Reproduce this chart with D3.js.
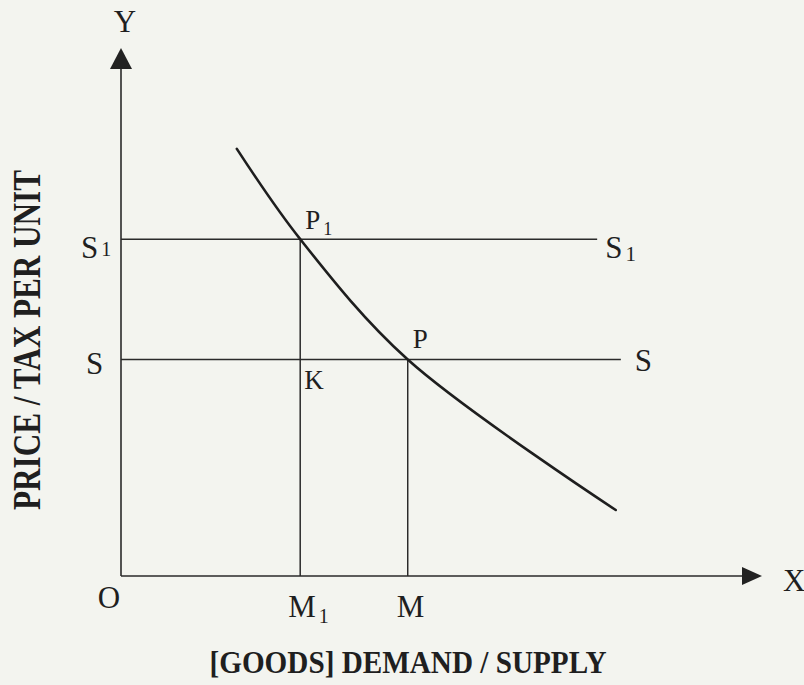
<!DOCTYPE html>
<html>
<head>
<meta charset="utf-8">
<script src="https://cdn.jsdelivr.net/npm/d3@7"></script>
<style>
  html, body { margin: 0; padding: 0; background: #f3f4ef; }
  svg { display: block; }
  text { font-family: "Liberation Serif", "Times New Roman", serif; fill: #1f1f1f; }
</style>
</head>
<body>
<svg id="chart" width="804" height="685"></svg>
<script>
// Demand curve (quantity, price) in axis units 0–100
const demandQty   = [18.1, 28.0, 44.8, 77.3];
const demandPrice = [80.9, 63.8, 41.0, 12.5];

// Supply / tax levels: S1 (with tax) and S (before tax)
const supplyNames  = ["S", "S"];
const supplySubs   = ["1", ""];
const supplyPrices = [63.8, 41.0];
const supplyEnds   = [74.4, 78.1];

// Quantities marked on the X axis
const qtyLabels = ["O", "M", "M"];
const qtySubs   = ["", "1", ""];
const qtyValues = [0, 28.0, 44.8];

const svg = d3.select("#chart");

const x = d3.scaleLinear().domain([0, 100]).range([121, 761]);
const y = d3.scaleLinear().domain([0, 100]).range([576, 48]);

const ink = "#2a2a2a";

// Axes
svg.append("line")
  .attr("x1", x(0)).attr("y1", y(0))
  .attr("x2", x(0)).attr("y2", y(100) + 20)
  .attr("stroke", ink).attr("stroke-width", 1.6);
svg.append("line")
  .attr("x1", x(0)).attr("y1", y(0))
  .attr("x2", x(100) - 19).attr("y2", y(0))
  .attr("stroke", ink).attr("stroke-width", 1.6);

// Arrow heads
svg.append("path")
  .attr("d", `M${x(0)},${y(100)} L${x(0) - 11},${y(100) + 21} L${x(0) + 11},${y(100) + 21} Z`)
  .attr("fill", "#222");
svg.append("path")
  .attr("d", `M${x(100) + 1},${y(0)} L${x(100) - 19},${y(0) - 9} L${x(100) - 19},${y(0) + 9} Z`)
  .attr("fill", "#222");

// Horizontal supply lines
supplyPrices.forEach((p, i) => {
  svg.append("line")
    .attr("x1", x(0)).attr("y1", y(p))
    .attr("x2", x(supplyEnds[i])).attr("y2", y(p))
    .attr("stroke", ink).attr("stroke-width", 1.5);
});

// Vertical drop lines from the intersections
[[qtyValues[1], supplyPrices[0]], [qtyValues[2], supplyPrices[1]]].forEach(([q, p]) => {
  svg.append("line")
    .attr("x1", x(q)).attr("y1", y(p))
    .attr("x2", x(q)).attr("y2", y(0))
    .attr("stroke", ink).attr("stroke-width", 1.5);
});

// Demand curve
const demand = demandQty.map((q, i) => [q, demandPrice[i]]);
svg.append("path")
  .datum(demand)
  .attr("d", d3.line().x(d => x(d[0])).y(d => y(d[1])).curve(d3.curveCatmullRom.alpha(0.5)))
  .attr("fill", "none").attr("stroke", "#1e1e1e").attr("stroke-width", 2.6)
  .attr("stroke-linecap", "round");

// Label helper: main text with optional smaller subscript
function label(px, py, main, sub, size, subDy, subSize, anchor) {
  const t = svg.append("text")
    .attr("x", px).attr("y", py)
    .attr("font-size", size)
    .attr("text-anchor", anchor || "start");
  t.append("tspan").text(main);
  if (sub) {
    t.append("tspan").attr("dx", 3).attr("dy", subDy).attr("font-size", subSize).text(sub);
  }
  return t;
}

// Axis letters
label(x(0) + 4, 32, "Y", "", 31, 0, 0, "middle");
label(783, 591, "X", "", 31, 0, 0, "start");

// Quantity marks
label(x(qtyValues[0]) - 12, 608, qtyLabels[0], "", 31, 0, 0, "middle");
label(x(qtyValues[1]) - 12, 617, qtyLabels[1], qtySubs[1], 31, 6, 20, "start");
label(x(qtyValues[2]) - 11, 617, qtyLabels[2], "", 31, 0, 0, "start");

// Supply labels, left of the Y axis and at the line ends
label(81, y(supplyPrices[0]) + 19, supplyNames[0], supplySubs[0], 31, -2, 20, "start");
label(86, y(supplyPrices[1]) + 14, supplyNames[1], "", 31, 0, 0, "start");
label(x(supplyEnds[0]) + 8, y(supplyPrices[0]) + 19, supplyNames[0], supplySubs[0], 31, 3, 21, "start");
label(x(supplyEnds[1]) + 14, y(supplyPrices[1]) + 11, supplyNames[1], "", 31, 0, 0, "start");

// Intersection labels
label(x(qtyValues[1]) + 5, y(supplyPrices[0]) - 10, "P", "1", 27, 6, 18, "start");
label(x(qtyValues[2]) + 5, y(supplyPrices[1]) - 12, "P", "", 27, 0, 0, "start");
label(x(qtyValues[1]) + 4, y(supplyPrices[1]) + 29, "K", "", 27, 0, 0, "start");

// Axis titles
svg.append("text")
  .attr("x", 408).attr("y", 673)
  .attr("text-anchor", "middle")
  .attr("font-size", 32).attr("font-weight", "bold")
  .attr("textLength", 397).attr("lengthAdjust", "spacingAndGlyphs")
  .text("[GOODS] DEMAND / SUPPLY");

svg.append("text")
  .attr("transform", "translate(40,340) rotate(-90)")
  .attr("text-anchor", "middle")
  .attr("font-size", 40).attr("font-weight", "bold")
  .attr("textLength", 340).attr("lengthAdjust", "spacingAndGlyphs")
  .text("PRICE / TAX PER UNIT");
</script>
</body>
</html>
